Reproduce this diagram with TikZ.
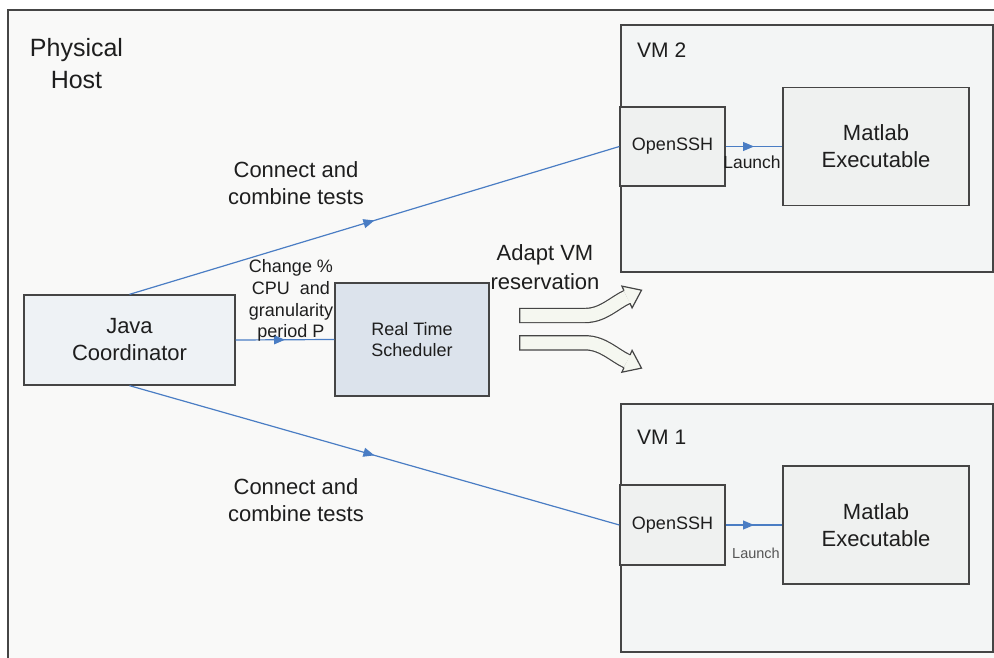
\documentclass[tikz,border=0pt]{standalone}
\usepackage{fontspec}
\setmainfont{Liberation Sans}
\usetikzlibrary{arrows.meta,decorations.markings}
\definecolor{outerfill}{HTML}{F9F9F8}
\definecolor{vmfill}{HTML}{F3F5F5}
\definecolor{javafill}{HTML}{EEF2F5}
\definecolor{rtsfill}{HTML}{DCE3EC}
\definecolor{sshfill}{HTML}{EFF1F0}
\definecolor{bordercol}{HTML}{454545}
\definecolor{linecol}{HTML}{4A7DC4}
\definecolor{arrowfill}{HTML}{F5F7F0}
\definecolor{txt}{HTML}{1E1E1E}
\definecolor{graytxt}{HTML}{555555}
\begin{document}
\begin{tikzpicture}[x=1pt,y=-1pt,
  box/.style={draw=bordercol, line width=1.3pt, inner sep=0pt, align=center, text=txt},
  lbl/.style={inner sep=0pt, align=center, text=txt},
  conn/.style={draw=linecol, line width=1.2pt, postaction={decorate},
    decoration={markings, mark=at position 0.5 with {\arrow{Triangle[length=11pt,width=9pt]}}}},
  big/.style={font=\fontsize{22}{27}\selectfont},
  mid/.style={font=\fontsize{18}{21.5}\selectfont},
  shaftout/.style={draw=bordercol, line width=15.4pt, line cap=butt},
  shaftin/.style={draw=arrowfill, line width=13pt, line cap=butt},
  headsty/.style={fill=arrowfill, draw=bordercol, line width=1.2pt, line join=miter}
]
\useasboundingbox (0,0) rectangle (994,658);
\clip (0,0) rectangle (994,658);
\fill[white] (0,0) rectangle (994,658);
% physical host
\draw[fill=outerfill, draw=bordercol, line width=1.5pt] (8,10) rectangle (1010,680);
\node[lbl, font=\fontsize{25}{32}\selectfont] (phys) at (76.5,64) {Physical\\Host};
% VM boxes
\node[box, fill=vmfill, minimum width=372pt, minimum height=247pt] (vm2) at (807,148.5) {};
\node[box, fill=vmfill, minimum width=372pt, minimum height=248pt] (vm1) at (807,528) {};
\node[lbl, anchor=west, font=\fontsize{21}{25}\selectfont] (vm2l) at (637,50) {VM 2};
\node[lbl, anchor=west, font=\fontsize{21}{25}\selectfont] (vm1l) at (637,437) {VM 1};
% inner boxes
\node[box, fill=sshfill, minimum width=105pt, minimum height=79pt, mid] (ssh2) at (672.5,146.5) {OpenSSH};
\node[box, fill=sshfill, minimum width=186pt, minimum height=118pt, big] (mat2) at (876,146.5) {Matlab\\Executable};
\node[box, fill=sshfill, minimum width=105pt, minimum height=80pt, mid] (ssh1) at (672.5,525) {OpenSSH};
\node[box, fill=sshfill, minimum width=186pt, minimum height=118pt, big] (mat1) at (876,525) {Matlab\\Executable};
\node[box, fill=javafill, minimum width=211pt, minimum height=90pt, big] (java) at (129.5,340) {Java\\Coordinator};
\node[box, fill=rtsfill, minimum width=154pt, minimum height=113pt, mid] (rts) at (412,339.5) {Real Time\\Scheduler};
% connectors
\draw[conn] (java.north) -- (ssh2.west);
\draw[conn] (java.south) -- (ssh1.west);
\draw[conn] (java.east) -- (rts.west);
\draw[conn] (ssh2.east) -- (mat2.west);
\draw[conn] (ssh1.east) -- (mat1.west);
% labels
\node[lbl, big] (c2) at (296,183.5) {Connect and\\combine tests};
\node[lbl, big] (c1) at (296,500.5) {Connect and\\combine tests};
\node[lbl, font=\fontsize{18}{21.7}\selectfont] (chg) at (291,300.5) {Change \%\\CPU\ \ and\\granularity\\period P};
\node[lbl, font=\fontsize{22}{29}\selectfont] (adapt) at (545,267.5) {Adapt VM\\reservation};
\node[lbl, font=\fontsize{17.5}{21}\selectfont] (la2) at (752,162) {Launch};
\node[lbl, text=graytxt, font=\fontsize{14.5}{18}\selectfont] (la1) at (756,553) {Launch};
% block arrows
\draw[shaftout] (519,315.5) -- (585,315.5) .. controls (603,315.5) and (614,303) .. (627,297);
\draw[shaftin] (520.3,315.5) -- (585,315.5) .. controls (603,315.5) and (614,303) .. (627,297);
\filldraw[headsty] (630.0,303.3) -- (632.1,307.9) -- (641.5,290.2) -- (621.9,286.1) -- (624.0,290.7);
\draw[shaftout] (519,342.8) -- (585,342.8) .. controls (603,342.8) and (614,355.3) .. (627,361.3);
\draw[shaftin] (520.3,342.8) -- (585,342.8) .. controls (603,342.8) and (614,355.3) .. (627,361.3);
\filldraw[headsty] (630.0,355.0) -- (632.1,350.4) -- (641.5,368.1) -- (621.9,372.2) -- (624.0,367.6);
\end{tikzpicture}
\end{document}
